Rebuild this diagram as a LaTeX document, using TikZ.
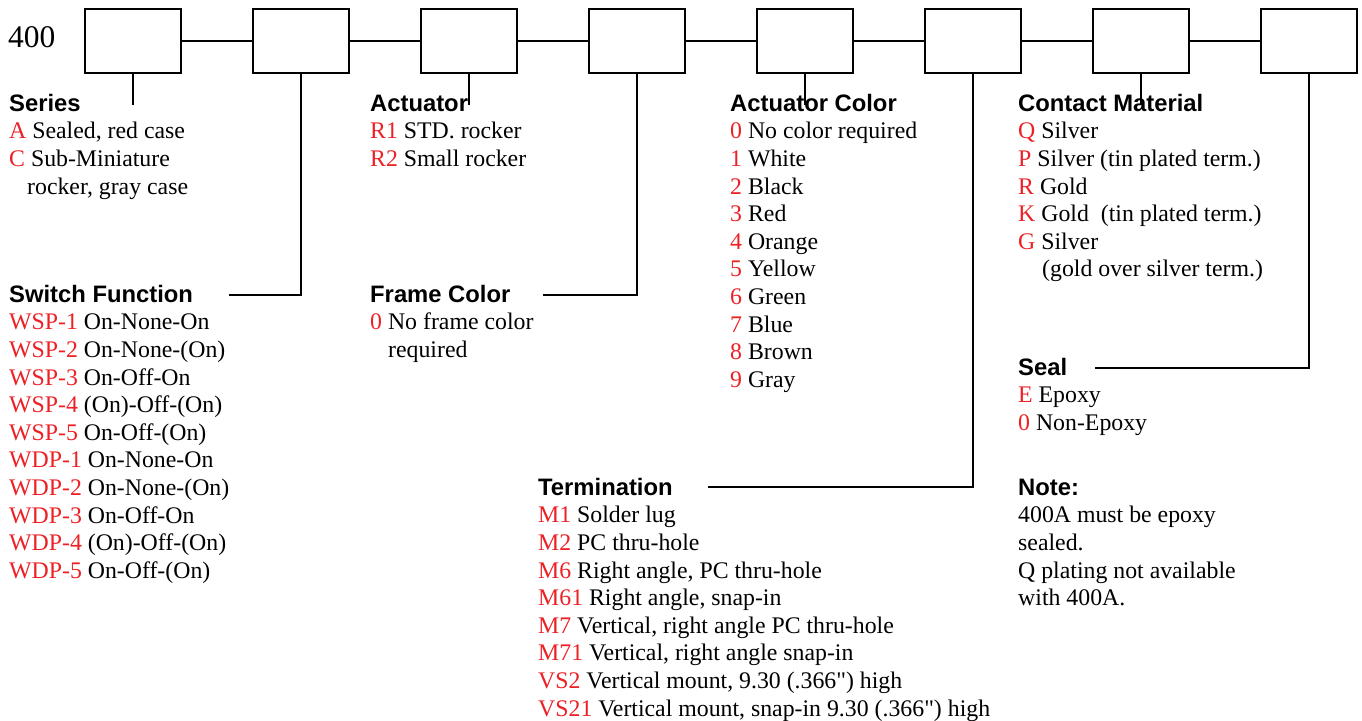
\documentclass[tikz,border=0pt]{standalone}
\usepackage{fontspec}
\setmainfont{Liberation Serif}[Ligatures=TeXOff]
\setsansfont{Liberation Sans}
\usetikzlibrary{positioning, calc}

\definecolor{codered}{RGB}{237,32,38}
\newcommand{\pcode}[1]{\textcolor{codered}{#1}}
\newcommand{\hd}[1]{{\rule{0pt}{20pt}\sffamily\bfseries #1}}

\begin{document}
\begin{tikzpicture}[x=1pt, y=-1pt]
\tikzset{digit/.style={draw, rectangle, line width=1.5pt, minimum width=96pt, minimum height=64pt, inner sep=0pt},
  lead/.style={line width=1.5pt},
  block/.style={anchor=north west, align=left, inner sep=0pt, font={\fontsize{23.8}{27.6}\selectfont}}}
\useasboundingbox (0,0) rectangle (1362,720);

% part number boxes
\node[anchor=base west, inner sep=0pt, font={\fontsize{31.5}{34}\selectfont}] (pn) at (8,47) {400};
\foreach \i in {1,...,8}
  \node[digit] (b\i) at ({133+168*(\i-1)},41) {};
\foreach \a/\b in {1/2,2/3,3/4,4/5,5/6,6/7,7/8}
  \draw[lead] (b\a) -- (b\b);

% stem ends
\coordinate (s1) at (133,105);
\coordinate (s3) at (469,105);
\coordinate (s5) at (805,105);
\coordinate (s7) at (1141,105);
\coordinate (swEnd) at (229,295);
\coordinate (frEnd) at (543,295);
\coordinate (tmEnd) at (708,487);
\coordinate (slEnd) at (1095,368);

\foreach \i in {1,3,5,7}
  \draw[lead] (b\i.south) -- (s\i);
\draw[lead] (b2.south) |- (swEnd);
\draw[lead] (b4.south) |- (frEnd);
\draw[lead] (b6.south) |- (tmEnd);
\draw[lead] (b8.south) |- (slEnd);

% option lists (top of block = first baseline - 20)
\node[block] (series) at (9,91) {\hd{Series}\\
  \pcode{A} Sealed, red case\\
  \pcode{C} Sub-Miniature\\
  \hspace*{18pt}rocker, gray case};
\node[block] (actuator) at (370,91) {\hd{Actuator}\\
  \pcode{R1} STD. rocker\\
  \pcode{R2} Small rocker};
\node[block] (actcolor) at (730,91) {\hd{Actuator Color}\\
  \pcode{0} No color required\\
  \pcode{1} White\\
  \pcode{2} Black\\
  \pcode{3} Red\\
  \pcode{4} Orange\\
  \pcode{5} Yellow\\
  \pcode{6} Green\\
  \pcode{7} Blue\\
  \pcode{8} Brown\\
  \pcode{9} Gray};
\node[block] (contact) at (1018,91) {\hd{Contact Material}\\
  \pcode{Q} Silver\\
  \pcode{P} Silver (tin plated term.)\\
  \pcode{R} Gold\\
  \pcode{K} Gold\ \ (tin plated term.)\\
  \pcode{G} Silver\\
  \hspace*{24pt}(gold over silver term.)};
\node[block] (switch) at (9,282) {\hd{Switch Function}\\
  \pcode{WSP-1} On-None-On\\
  \pcode{WSP-2} On-None-(On)\\
  \pcode{WSP-3} On-Off-On\\
  \pcode{WSP-4} (On)-Off-(On)\\
  \pcode{WSP-5} On-Off-(On)\\
  \pcode{WDP-1} On-None-On\\
  \pcode{WDP-2} On-None-(On)\\
  \pcode{WDP-3} On-Off-On\\
  \pcode{WDP-4} (On)-Off-(On)\\
  \pcode{WDP-5} On-Off-(On)};
\node[block] (frame) at (370,282) {\hd{Frame Color}\\
  \pcode{0} No frame color\\
  \hspace*{18pt}required};
\node[block] (seal) at (1018,355) {\hd{Seal}\\
  \pcode{E} Epoxy\\
  \pcode{0} Non-Epoxy};
\node[block] (term) at (538,475) {\hd{Termination}\\
  \pcode{M1} Solder lug\\
  \pcode{M2} PC thru-hole\\
  \pcode{M6} Right angle, PC thru-hole\\
  \pcode{M61} Right angle, snap-in\\
  \pcode{M7} Vertical, right angle PC thru-hole\\
  \pcode{M71} Vertical, right angle snap-in\\
  \pcode{VS2} Vertical mount, 9.30 (.366") high\\
  \pcode{VS21} Vertical mount, snap-in 9.30 (.366") high};
\node[block] (note) at (1018,475) {\hd{Note:}\\
  400A must be epoxy\\
  sealed.\\
  Q plating not available\\
  with 400A.};
\end{tikzpicture}
\end{document}
